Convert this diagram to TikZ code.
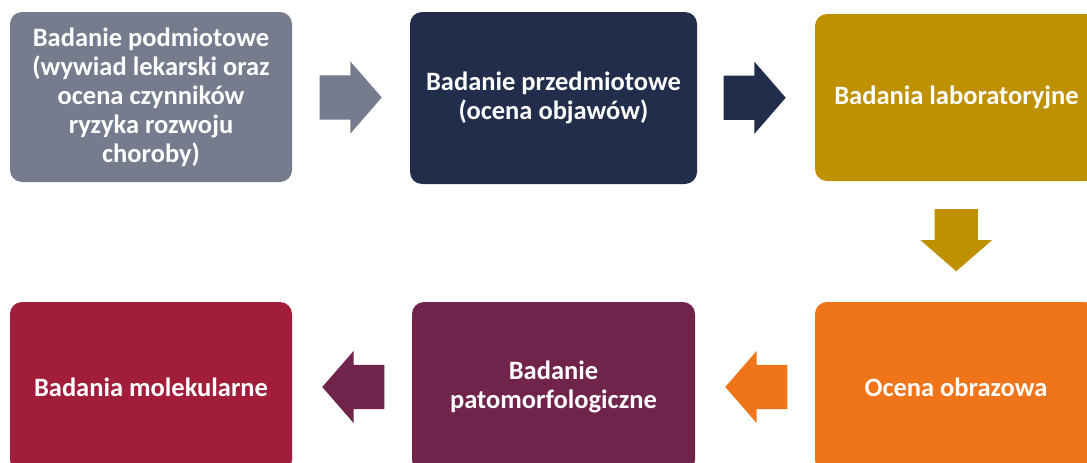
\documentclass[tikz,border=0pt]{standalone}
\usepackage{fontspec}
\setmainfont{Carlito}
\usetikzlibrary{shapes.arrows,calc}

\definecolor{stagegray}{RGB}{118,124,142}
\definecolor{stagenavy}{RGB}{33,45,74}
\definecolor{stagegold}{RGB}{191,144,0}
\definecolor{stageorange}{RGB}{240,116,25}
\definecolor{stageplum}{RGB}{112,36,75}
\definecolor{stagecrimson}{RGB}{162,29,58}

\tikzset{
  stage/.style={rectangle, rounded corners=12pt, minimum width=282pt,
    minimum height=170pt, inner sep=0pt, align=center, text=white,
    font=\fontsize{26.5}{29}\selectfont\bfseries},
  blockarrow/.style={single arrow, inner sep=0pt, text height=44pt,
    single arrow head extend=14pt, single arrow tip angle=98,
    minimum height=62pt, anchor=tip},
}

\begin{document}
\begin{tikzpicture}[x=1pt,y=-1pt]
\useasboundingbox (0,0) rectangle (1087,463);
\fill[white] (0,0) rectangle (1087,463);
\clip (0,0) rectangle (1087,463);

% top row
\node[stage, fill=stagegray] (b1) at (151,97)
  {Badanie podmiotowe\\(wywiad lekarski oraz\\ocena czynników\\ryzyka rozwoju\\choroby)};
\node[stage, fill=stagenavy, minimum width=287pt, minimum height=172pt] (b2) at (553.5,98)
  {Badanie przedmiotowe\\(ocena objawów)};
\node[stage, fill=stagegold, minimum width=283pt, minimum height=167pt] (b3) at (956.5,97.5)
  {Badania laboratoryjne};

% bottom row
\node[stage, fill=stagecrimson] (b4) at (151,387) {Badania molekularne};
\node[stage, fill=stageplum, minimum width=283pt] (b5) at (553.5,387)
  {Badanie\\patomorfologiczne};
\node[stage, fill=stageorange] (b6) at (956,387) {Ocena obrazowa};

% arrows between stages
\node[blockarrow, fill=stagegray] (a1) at ($(b1.east)!.5!(b2.west)+(31,0)$) {};
\node[blockarrow, fill=stagenavy] (a2) at ($(b2.east)!.5!(b3.west)+(30,0)$) {};
\node[blockarrow, fill=stagegold, shape border rotate=270, text height=0pt,
  text width=43pt] (a3) at ($(b3.south)!.5!(b6.north)+(0,30)$) {};
\node[blockarrow, fill=stageorange, shape border rotate=180] (a4)
  at ($(b6.west)!.5!(b5.east)+(-30,0)$) {};
\node[blockarrow, fill=stageplum, shape border rotate=180] (a5)
  at ($(b5.west)!.5!(b4.east)+(-30,0)$) {};
\end{tikzpicture}
\end{document}
